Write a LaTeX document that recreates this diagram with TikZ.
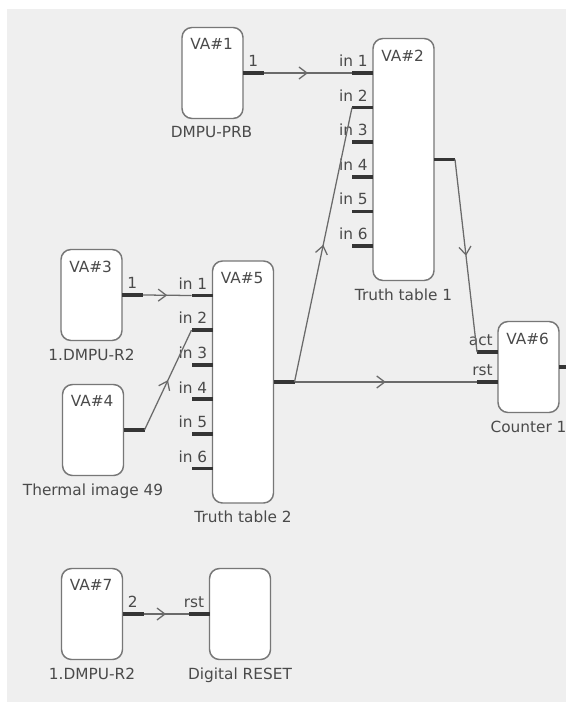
\documentclass[tikz,border=0pt]{standalone}
\usepackage{fontspec}
\setmainfont{DejaVu Sans}
\usetikzlibrary{arrows.meta,decorations.markings,positioning}

\definecolor{canvas}{HTML}{EFEFEF}
\definecolor{linecol}{HTML}{6A6A6A}
\definecolor{boxcol}{HTML}{777777}
\definecolor{stubcol}{HTML}{353535}
\definecolor{inkcol}{HTML}{4A4A4A}

\tikzset{
  block/.style={draw=boxcol, line width=1.1pt, fill=white, rounded corners=7.5pt,
    minimum width=45.75pt, minimum height=68.25pt, inner sep=0pt, outer sep=0pt},
  tallblock/.style={block, minimum height=181.5pt},
  pinstub/.style={draw=stubcol, line width=2.8pt},
  flow/.style={draw=linecol, line width=0.95pt, postaction={decorate},
    decoration={markings, mark=at position 0.5 with {\arrow{Straight Barb[length=6pt,width=9pt]}}}},
  txt/.style={font=\fontsize{11.5}{14}\selectfont, text=inkcol, inner sep=0pt},
  vatitle/.style={txt, anchor=north west},
  blockname/.style={txt, anchor=north},
  portlabel/.style={txt}
}

\begin{document}
\begin{tikzpicture}[x=0.75pt,y=-0.75pt]
% canvas
\useasboundingbox (0,0) rectangle (566,702);
\fill[white] (0,0) rectangle (566,702);
\fill[canvas] (7,9) rectangle (566,702);

% blocks
\node[block] (va1) at (212.5,73) {};
\node[tallblock] (va2) at (403.5,159.5) {};
\node[block] (va3) at (91.5,295) {};
\node[block] (va4) at (93,430) {};
\node[tallblock] (va5) at (243,382) {};
\node[block] (va6) at (528.5,367) {};
\node[block] (va7) at (92,614) {};
\node[block] (dr) at (240,614) {};

% titles
\node[vatitle] (va1-t) at ([shift={(8,11)}]va1.north west) {VA\#1};
\node[vatitle] (va2-t) at ([shift={(8,11)}]va2.north west) {VA\#2};
\node[vatitle] (va3-t) at ([shift={(8,11)}]va3.north west) {VA\#3};
\node[vatitle] (va4-t) at ([shift={(8,11)}]va4.north west) {VA\#4};
\node[vatitle] (va5-t) at ([shift={(8,11)}]va5.north west) {VA\#5};
\node[vatitle] (va6-t) at ([shift={(8,11)}]va6.north west) {VA\#6};
\node[vatitle] (va7-t) at ([shift={(8,11)}]va7.north west) {VA\#7};

% names
\node[blockname] (va1-n) at ([shift={(-1,8)}]va1.south) {DMPU-PRB};
\node[blockname] (va2-n) at ([shift={(0,8)}]va2.south) {Truth table 1};
\node[blockname] (va3-n) at ([shift={(0,8)}]va3.south) {1.DMPU-R2};
\node[blockname] (va4-n) at ([shift={(0,8)}]va4.south) {Thermal image 49};
\node[blockname] (va5-n) at ([shift={(0,8)}]va5.south) {Truth table 2};
\node[blockname] (va6-n) at ([shift={(0,8)}]va6.south) {Counter 1};
\node[blockname] (va7-n) at ([shift={(0,8)}]va7.south) {1.DMPU-R2};
\node[blockname] (dr-n) at ([shift={(0,8)}]dr.south) {Digital RESET};

% inputs of the truth tables
\foreach \b in {va2,va5}{
  \foreach \k/\d in {1/-86.5,2/-51.9,3/-17.3,4/17.3,5/51.9,6/86.5}{
    \coordinate (\b-in\k) at ([shift={(0,\d)}]\b.west);
    \coordinate (\b-p\k) at ([shift={(-21,\d)}]\b.west);
    \draw[pinstub] (\b-in\k) -- (\b-p\k);
    \node[portlabel, anchor=south east] (\b-l\k) at ([shift={(-5,-6)}]\b-in\k) {in \k};
  }
}

% other inputs
\coordinate (va6-inact) at ([shift={(0,-15)}]va6.west);
\coordinate (va6-pact) at ([shift={(-21,-15)}]va6.west);
\coordinate (va6-inrst) at ([shift={(0,15)}]va6.west);
\coordinate (va6-prst) at ([shift={(-21,15)}]va6.west);
\coordinate (dr-prst) at ([shift={(-21,0)}]dr.west);
\draw[pinstub] (va6-inact) -- (va6-pact);
\draw[pinstub] (va6-inrst) -- (va6-prst);
\draw[pinstub] (dr.west) -- (dr-prst);
\node[portlabel, anchor=south east] (va6-lact) at ([shift={(-5,-6)}]va6-inact) {act};
\node[portlabel, anchor=south east] (va6-lrst) at ([shift={(-5,-6)}]va6-inrst) {rst};
\node[portlabel, anchor=south east] (dr-lrst) at ([shift={(-5,-6)}]dr.west) {rst};

% outputs
\foreach \b in {va1,va2,va3,va4,va5,va7}{
  \coordinate (\b-o) at ([shift={(21,0)}]\b.east);
  \draw[pinstub] (\b.east) -- (\b-o);
}
\coordinate (va6-o) at (566,367);
\draw[pinstub] (va6.east) -- (va6-o);
\node[portlabel, anchor=south west] (va1-ol) at ([shift={(5,-6)}]va1.east) {1};
\node[portlabel, anchor=south west] (va3-ol) at ([shift={(5,-6)}]va3.east) {1};
\node[portlabel, anchor=south west] (va7-ol) at ([shift={(5,-6)}]va7.east) {2};

% connections
\draw[flow] (va1-o) -- (va2-p1);
\draw[flow] (va3-o) -- (va5-p1);
\draw[flow] (va4-o) -- (va5-p2);
\draw[flow] (va5-o) -- (va2-p2);
\draw[flow] (va5-o) -- (va6-prst);
\draw[flow] (va2-o) -- (va6-pact);
\draw[flow] (va7-o) -- (dr-prst);
\end{tikzpicture}
\end{document}
